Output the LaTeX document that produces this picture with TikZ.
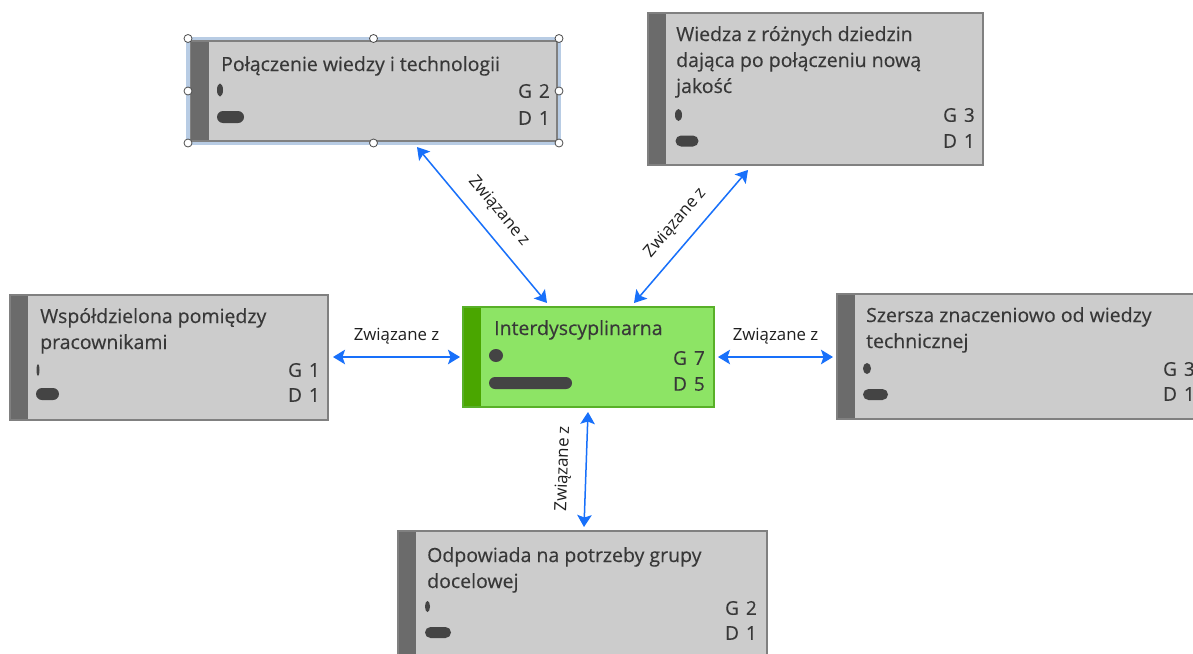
\documentclass[tikz,border=0pt]{standalone}
\usepackage{fontspec}
\setmainfont{Open Sans}
\newfontfamily\cardfont{Open Sans}[FakeBold=0.35]
\usetikzlibrary{arrows.meta,calc}

\definecolor{cardfill}{RGB}{204,204,204}
\definecolor{cardline}{RGB}{128,128,128}
\definecolor{cardbar}{RGB}{107,107,107}
\definecolor{pillc}{RGB}{68,68,68}
\definecolor{inkc}{RGB}{56,56,56}
\definecolor{hubfill}{RGB}{141,228,101}
\definecolor{hubline}{RGB}{88,176,40}
\definecolor{hubbar}{RGB}{74,166,0}
\definecolor{linkc}{RGB}{24,112,250}
\definecolor{selc}{RGB}{184,204,228}

\tikzset{
  cardshape/.style={rectangle, inner sep=0pt, outer sep=0pt},
  % multi-line titles are anchored at the baseline of their last line
  title/.style={anchor=base west, inner sep=0pt, align=left, text=inkc,
    font=\cardfont\fontsize{19.5}{26}\selectfont},
  count/.style={anchor=east, inner sep=0pt, text=inkc,
    font=\cardfont\fontsize{19}{22}\selectfont},
  tip/.tip={Stealth[length=12pt,width=14.5pt,inset=2.5pt]},
  link/.style={draw=linkc, line width=1.5pt, {tip}-{tip}},
  linklabel/.style={inner sep=0pt, text=black!88,
    font=\fontsize{16.8}{20}\selectfont},
  handle/.style={circle, draw=black!70, fill=white, line width=0.8pt,
    inner sep=0pt, minimum size=8pt},
}

% card: name, fill, bar colour, border colour, left, top, right, bottom
\newcommand\drawcard[8]{%
  \node[cardshape, fill=#2, minimum width={#7-#5}, minimum height={#8-#6}]
    (#1) at ({(#5+#7)/2},{(#6+#8)/2}) {};
  \fill[#3] (#1.north west) rectangle ([xshift=18pt]#1.south west);
  \draw[#4, line width=1.2pt] (#1.north west) rectangle (#1.south east);
}
% small upright mark: centre x, centre y, x radius, y radius
\newcommand\dotmark[4]{\fill[pillc] (#1,#2) ellipse [x radius=#3, y radius=#4];}
% bar mark: left x, centre y, right x, half height
\newcommand\barmark[4]{\fill[pillc, rounded corners=#4pt] (#1,{#2-#4}) rectangle (#3,{#2+#4});}

\begin{document}
\begin{tikzpicture}[x=1pt, y=-1pt]
\useasboundingbox (0,0) rectangle (1193,653);
\clip (0,0) rectangle (1193,653);
\fill[white] (0,0) rectangle (1193,653);

% ---- cards ----
\drawcard{tl}{cardfill}{cardbar}{cardline}{190.5}{41}{557}{141}
\drawcard{tr}{cardfill}{cardbar}{cardline}{648}{13}{983}{165}
\drawcard{ctr}{hubfill}{hubbar}{hubline}{463}{307}{714}{407}
\drawcard{lf}{cardfill}{cardbar}{cardline}{10}{295}{328}{420}
\drawcard{rt}{cardfill}{cardbar}{cardline}{837}{294}{1202}{419}
\drawcard{bt}{cardfill}{cardbar}{cardline}{398}{531}{767}{660}

% selection frame with handles
\draw[selc, line width=3.2pt] (188,38.5) rectangle (559,143);
\draw[cardline, line width=1.2pt] (tl.north west) rectangle (tl.south east);
\foreach \hx in {188,373.5,559}{
  \node[handle] (h-\hx-t) at (\hx,38.5) {};
  \node[handle] (h-\hx-b) at (\hx,143) {};
}
\node[handle] (h-l) at (188,91) {};
\node[handle] (h-r) at (559,91) {};

% ---- titles ----
\node[title] (tl-t) at (221,71) {Połączenie wiedzy i technologii};
\node[title] (tr-t) at (676,93) {Wiedza z różnych dziedzin\\dająca po połączeniu nową\\jakość};
\node[title] (ctr-t) at (494,335) {Interdyscyplinarna};
\node[title] (lf-t) at (40,349) {Współdzielona pomiędzy\\pracownikami};
\node[title] (rt-t) at (866,348) {Szersza znaczeniowo od wiedzy\\technicznej};
\node[title] (bt-t) at (427,588) {Odpowiada na potrzeby grupy\\docelowej};

% ---- counters ----
\node[count] (tl-g) at (550,91) {G\hspace{7pt}2};
\node[count] (tl-d) at (550,118) {D\hspace{7pt}1};
\node[count] (tr-g) at (975,115) {G\hspace{7pt}3};
\node[count] (tr-d) at (975,141) {D\hspace{7pt}1};
\node[count] (ctr-g) at (705,358) {G\hspace{7pt}7};
\node[count] (ctr-d) at (705,384) {D\hspace{7pt}5};
\node[count] (lf-g) at (320,370) {G\hspace{7pt}1};
\node[count] (lf-d) at (320,395) {D\hspace{7pt}1};
\node[count] (rt-g) at (1195,369) {G\hspace{7pt}3};
\node[count] (rt-d) at (1195,394) {D\hspace{7pt}1};
\node[count] (bt-g) at (757,608) {G\hspace{7pt}2};
\node[count] (bt-d) at (757,633) {D\hspace{7pt}1};

% ---- marks ----
\dotmark{220}{90}{3}{6.5}
\barmark{217}{117}{244}{6}
\dotmark{678.5}{115}{3.5}{6}
\barmark{675.5}{141}{698.5}{5.5}
\dotmark{496}{355.5}{7}{6.5}
\barmark{489}{383}{572}{6}
\dotmark{38}{370}{1.5}{6}
\barmark{36}{394}{59}{6}
\dotmark{867}{368.5}{4}{5.5}
\barmark{863}{394.5}{888}{5.5}
\dotmark{427.5}{606.5}{2.5}{5.5}
\barmark{425}{632.5}{451}{5.5}

% ---- connectors ----
\draw[link] ($(tl.south)+(43.25,6)$) -- ($(ctr.north)+(-41.5,-4)$)
  node[linklabel, midway, sloped, above=13pt] (l1) {Związane z};
\draw[link] ($(tr.south)+(-67.5,5)$) -- ($(ctr.north)+(45.5,-4)$)
  node[linklabel, midway, sloped, above=12pt] (l2) {Związane z};
\draw[link] ($(lf.east |- ctr.west)+(5,0)$) -- ($(ctr.west)+(-3,0)$)
  node[linklabel, midway, above=12pt] (l3) {Związane z};
\draw[link] ($(ctr.east)+(4,0)$) -- ($(rt.west |- ctr.east)+(-4,0)$)
  node[linklabel, midway, above=12pt] (l4) {Związane z};
\draw[link] ($(ctr.south)+(-0.5,5)$) -- ($(bt.north)+(1.5,-4)$)
  node[linklabel, midway, sloped, above=14pt] (l5) {Związane z};
\end{tikzpicture}
\end{document}
